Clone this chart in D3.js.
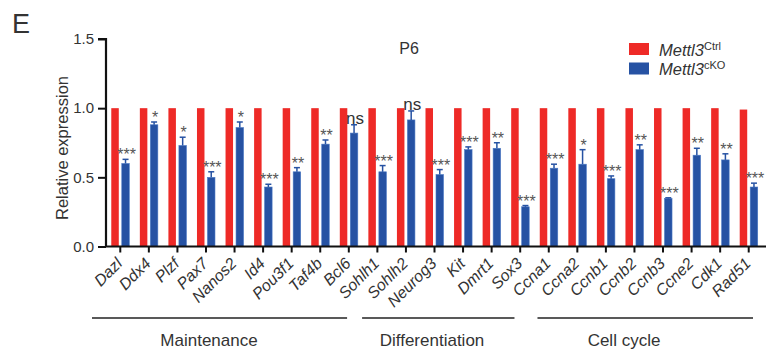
<!DOCTYPE html>
<html>
<head>
<meta charset="utf-8">
<script src="https://cdn.jsdelivr.net/npm/d3@7"></script>
<style>
  body { margin: 0; background: #fff; }
  svg text { font-family: "Liberation Sans", Arial, sans-serif; fill: #333; }
</style>
</head>
<body>
<div id="chart"></div>
<script>
// genes on the x axis
var genes = ['Dazl', 'Ddx4', 'Plzf', 'Pax7', 'Nanos2', 'Id4', 'Pou3f1', 'Taf4b', 'Bcl6',
	'Sohlh1', 'Sohlh2', 'Neurog3', 'Kit', 'Dmrt1', 'Sox3',
	'Ccna1', 'Ccna2', 'Ccnb1', 'Ccnb2', 'Ccnb3', 'Ccne2', 'Cdk1', 'Rad51'];

// relative expression, Mettl3 Ctrl
var ctrlValues = [1, 1, 1, 1, 1, 1, 1, 1, 1, 1, 1, 1, 1, 1, 1, 1, 1, 1, 1, 1, 1, 1, 0.99];
// relative expression, Mettl3 cKO
var ckoValues = [0.60, 0.88, 0.73, 0.50, 0.86, 0.43, 0.54, 0.74, 0.82,
	0.54, 0.915, 0.52, 0.70, 0.71, 0.287,
	0.566, 0.595, 0.49, 0.70, 0.347, 0.66, 0.626, 0.43];
// SEM of cKO
var ckoErrors = [0.03, 0.02, 0.06, 0.04, 0.04, 0.02, 0.03, 0.03, 0.06,
	0.045, 0.065, 0.036, 0.02, 0.04, 0.009,
	0.029, 0.105, 0.02, 0.035, 0.005, 0.05, 0.044, 0.028];
var signif = ['***', '*', '*', '***', '*', '***', '**', '**', 'ns',
	'***', 'ns', '***', '***', '**', '***',
	'***', '*', '***', '**', '***', '**', '**', '***'];

var yTicks = [0, 0.5, 1.0, 1.5];

var groupNames = ['Maintenance', 'Differentiation', 'Cell cycle'];
var groupFirst = ['Dazl', 'Sohlh1', 'Ccna1'];
var groupLast = ['Bcl6', 'Sox3', 'Rad51'];

var seriesNames = ['Ctrl', 'cKO'];
var colors = { Ctrl: '#ee2a27', cKO: '#2652a3' };

var width = 766, height = 350;

var svg = d3.select('#chart').append('svg')
	.attr('width', width)
	.attr('height', height);

var x = d3.scaleBand().domain(genes).range([106, 763]);
var x1 = d3.scaleBand().domain(seriesNames).range([-9, 9]).paddingInner(0.286);
var y = d3.scaleLinear().domain([0, 1.5]).range([246.5, 39]);

// panel letter
svg.append('text')
	.attr('x', 12)
	.attr('y', 33)
	.style('font-size', '27px')
	.text('E');

// title
svg.append('text')
	.attr('x', 409)
	.attr('y', 54)
	.attr('text-anchor', 'middle')
	.style('font-size', '16px')
	.text('P6');

// bars
var groups = svg.selectAll('.gene')
	.data(genes).enter()
	.append('g')
	.attr('class', 'gene')
	.attr('transform', function(d) { return 'translate(' + (x(d) + x.bandwidth() / 2) + ',0)'; });

groups.append('rect')
	.attr('x', x1('Ctrl'))
	.attr('width', x1.bandwidth())
	.attr('y', function(d, i) { return y(ctrlValues[i]); })
	.attr('height', function(d, i) { return y(0) - y(ctrlValues[i]); })
	.attr('fill', colors.Ctrl);

groups.append('rect')
	.attr('x', x1('cKO'))
	.attr('width', x1.bandwidth())
	.attr('y', function(d, i) { return y(ckoValues[i]); })
	.attr('height', function(d, i) { return y(0) - y(ckoValues[i]); })
	.attr('fill', colors.cKO)
	.attr('stroke', '#4a78c4')
	.attr('stroke-width', 0.6);

// error bars
var cx = x1('cKO') + x1.bandwidth() / 2;
groups.append('line')
	.attr('x1', cx).attr('x2', cx)
	.attr('y1', function(d, i) { return y(ckoValues[i]); })
	.attr('y2', function(d, i) { return y(ckoValues[i] + ckoErrors[i]); })
	.attr('stroke', colors.cKO)
	.attr('stroke-width', 1.5);
groups.append('line')
	.attr('x1', cx - 3).attr('x2', cx + 3)
	.attr('y1', function(d, i) { return y(ckoValues[i] + ckoErrors[i]); })
	.attr('y2', function(d, i) { return y(ckoValues[i] + ckoErrors[i]); })
	.attr('stroke', colors.cKO)
	.attr('stroke-width', 1.5);

// significance marks
groups.append('text')
	.attr('x', cx + 1)
	.attr('y', function(d, i) {
		var top = y(ckoValues[i] + ckoErrors[i]);
		return signif[i] == 'ns' ? top - 1 : top + 1;
	})
	.attr('text-anchor', 'middle')
	.style('font-size', function(d, i) { return signif[i] == 'ns' ? '17px' : '16px'; })
	.style('fill', function(d, i) { return signif[i] == 'ns' ? '#333' : '#555'; })
	.text(function(d, i) { return signif[i]; });

// y axis
var yAxis = d3.axisLeft(y)
	.tickValues(yTicks)
	.tickSize(8)
	.tickPadding(4)
	.tickFormat(d3.format('.1f'));

var gy = svg.append('g')
	.attr('transform', 'translate(106,0)')
	.call(yAxis);
gy.select('.domain').attr('stroke', '#111').attr('stroke-width', 2.2).attr('d', 'M-8,' + y(1.5) + 'H0V' + y(0));
gy.selectAll('.tick line').attr('stroke', '#111').attr('stroke-width', 2);
gy.selectAll('.tick text')
	.style('font-size', '15px')
	.style('font-family', '"Liberation Sans", Arial, sans-serif')
	.attr('fill', '#333');

svg.append('text')
	.attr('transform', 'translate(68,148) rotate(-90)')
	.attr('text-anchor', 'middle')
	.style('font-size', '16.5px')
	.text('Relative expression');

// x axis
var xAxis = d3.axisBottom(x).tickSize(6).tickSizeOuter(0);
var gx = svg.append('g')
	.attr('transform', 'translate(0,' + y(0) + ')')
	.call(xAxis);
gx.select('.domain').attr('stroke', '#111').attr('stroke-width', 2.2).attr('d', 'M105,0H766');
gx.selectAll('.tick line').attr('stroke', '#111').attr('stroke-width', 2);
gx.selectAll('.tick text')
	.attr('y', 0).attr('dy', 0)
	.attr('transform', 'translate(3,18) rotate(-45)')
	.attr('text-anchor', 'end')
	.style('font-size', '16px')
	.style('font-style', 'italic')
	.style('font-family', '"Liberation Sans", Arial, sans-serif')
	.attr('fill', '#222');

// group brackets
var lineStartPad = [-14, -1, 3];
var lineEndPad = [-16, -20, -10];
var groupLabelX = [209, 432, 624];

var brackets = svg.selectAll('.bracket')
	.data(groupNames).enter()
	.append('g')
	.attr('class', 'bracket');

brackets.append('line')
	.attr('x1', function(d, i) { return x(groupFirst[i]) + lineStartPad[i]; })
	.attr('x2', function(d, i) { return x(groupLast[i]) + x.bandwidth() + lineEndPad[i]; })
	.attr('y1', 318).attr('y2', 318)
	.attr('stroke', '#222')
	.attr('stroke-width', 1.6);

brackets.append('text')
	.attr('x', function(d, i) { return groupLabelX[i]; })
	.attr('y', 346)
	.attr('text-anchor', 'middle')
	.style('font-size', '17px')
	.text(function(d) { return d; });

// legend
var legend = svg.selectAll('.legend')
	.data(seriesNames).enter()
	.append('g')
	.attr('class', 'legend')
	.attr('transform', function(d, i) { return 'translate(629,' + (43 + i * 19.5) + ')'; });

legend.append('rect')
	.attr('width', 20)
	.attr('height', 12)
	.attr('fill', function(d) { return colors[d]; });

var lt = legend.append('text')
	.attr('x', 30)
	.attr('y', 12.5)
	.style('font-size', '16.5px');
lt.append('tspan')
	.style('font-style', 'italic')
	.text('Mettl3');
lt.append('tspan')
	.attr('dy', -6)
	.style('font-size', '11px')
	.text(function(d) { return d; });
</script>
</body>
</html>
